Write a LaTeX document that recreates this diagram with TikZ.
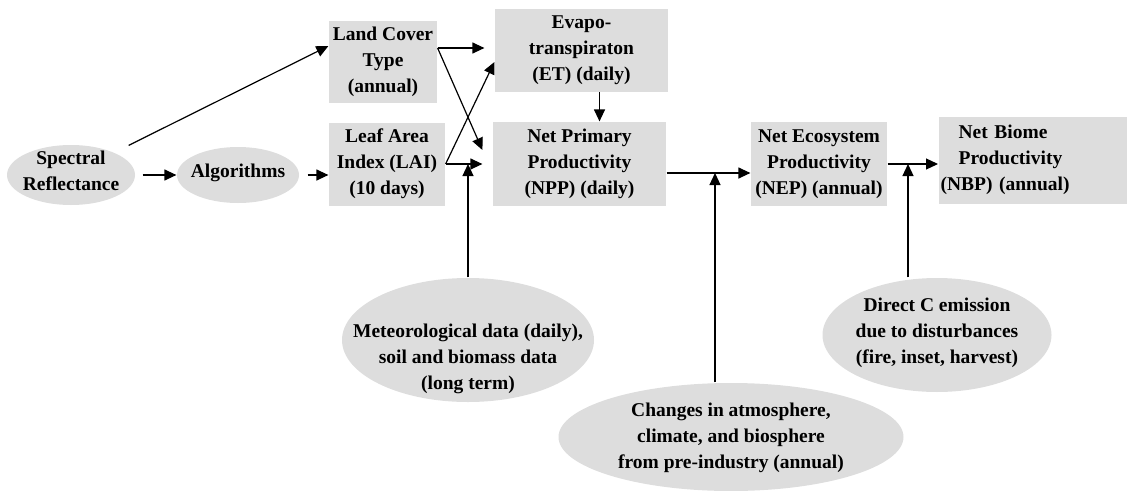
\documentclass[tikz,border=0pt]{standalone}
\usepackage{fontspec}
\setmainfont{Liberation Serif}
\usepackage{tikz}
\usetikzlibrary{shapes.geometric, positioning, arrows.meta}

\definecolor{boxgray}{RGB}{221,221,221}
\newcommand{\ovaltext}[2][0pt]{\raisebox{#1}[0pt][0pt]{\makebox[0pt]{\begin{tabular}{@{}c@{}}#2\end{tabular}}}}

\tikzset{
  box/.style={rectangle, fill=boxgray, align=center, inner sep=1pt},
  oval/.style={ellipse, fill=boxgray, inner sep=0pt},
}

\begin{document}
\begin{tikzpicture} [x=1pt, y=-1pt, node distance=167pt, on grid, line width=1.2pt,
  >={Triangle[length=12pt,width=11pt]}, font=\bfseries\fontsize{19.5}{26}\selectfont]
\useasboundingbox (0,0) rectangle (1127,490);

\node[oval, minimum width=128pt, minimum height=60pt] (spectral) at (71,175) {\ovaltext[-2pt]{Spectral\\Reflectance}};
\node[oval, minimum width=122pt, minimum height=56pt] (algorithms) [right=of spectral] {\ovaltext[-2pt]{Algorithms}};
\node[box, minimum width=108pt, minimum height=82pt] (landcover) at (383,62) {Land Cover\\Type\\(annual)};
\node[box, minimum width=116pt, minimum height=83pt] (lai) at (387,164) {Leaf Area\\Index (LAI)\\(10 days)};
\node[box, minimum width=173pt, minimum height=83pt] (et) at (581.5,50) {Evapo-\\transpiraton\\(ET) (daily)};
\node[box, minimum width=173pt, minimum height=84pt] (npp) at (579.5,164) {Net Primary\\Productivity\\(NPP) (daily)};
\node[box, minimum width=136pt, minimum height=84pt] (nep) [right=239.5pt of npp] {Net Ecosystem\\Productivity\\(NEP) (annual)};
\node[box, minimum width=189pt, minimum height=87pt, text width=185pt, align=left, anchor=west] (nbp) at (938,160) {\hspace*{18pt}Net Biome\\\hspace*{18pt}Productivity\\(NBP) (annual)};
\node[oval, minimum width=252pt, minimum height=124pt] (meteo) at (468,340) {\ovaltext[-23pt]{Meteorological data (daily),\\soil and biomass data\\(long term)}};
\node[oval, minimum width=345pt, minimum height=108pt] (changes) at (731,437) {\ovaltext[-5pt]{Changes in atmosphere,\\climate, and biosphere\\from pre-industry (annual)}};
\node[oval, minimum width=229pt, minimum height=114pt] (direct) at (937,335) {\ovaltext[-2pt]{Direct C emission\\due to disturbances\\(fire, inset, harvest)}};

\coordinate (lc_out) at ([yshift=14pt]landcover.east);
\coordinate (npp_in_a) at ([shift={(-10pt,14pt)}]npp.west);
\coordinate (npp_in_b) at ([xshift=-10pt]npp.west);
\coordinate (et_in) at ([yshift=-12pt]et.west);
\coordinate (et_down) at ([xshift=18pt]et.south);
\coordinate (npp_out) at ([yshift=-9pt]npp.east);
\coordinate (changes_up) at ([xshift=-16pt]changes.north);
\coordinate (direct_up) at ([xshift=-29pt]direct.north);

\path[->] ([shift={(12pt,8pt)}]spectral.north east) edge ([yshift=16pt]landcover.west);
\path[->] (spectral) edge [shorten <=7pt] (algorithms);
\path[->] (algorithms.east) edge [shorten <=8pt] (algorithms.east -| lai.west);
\path[->] (lc_out) edge [shorten >=10pt] (lc_out -| et.west);
\path[->] (lc_out) edge (npp_in_a);
\path[->] (lai.east) edge (et_in);
\path[->] (lai.east) edge (npp_in_b);
\path[->] (meteo.north) edge (meteo.north |- npp_in_b);
\path[->] (et_down) edge (et_down |- npp.north);
\path[->] (npp_out) edge (npp_out -| nep.west);
\path[->] (changes_up) edge (changes_up |- npp_out);
\path[->] (nep.east) edge (nep.east -| nbp.west);
\path[->] (direct_up) edge (direct_up |- nep.east);

\end{tikzpicture}
\end{document}
